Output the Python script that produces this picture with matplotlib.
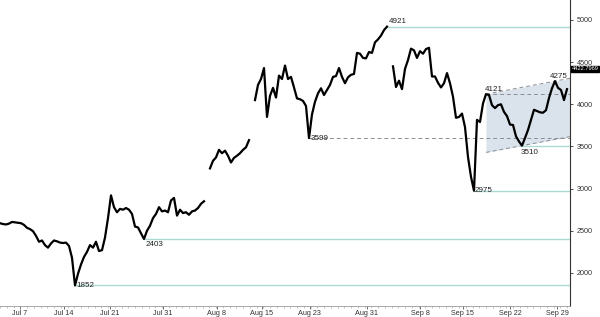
import numpy as np
import matplotlib
matplotlib.use("Agg")
import matplotlib.pyplot as plt
from matplotlib.ticker import MultipleLocator

plt.rcParams["font.family"] = ["Liberation Sans", "DejaVu Sans"]

nan = np.nan
# price series, one sample per step (NaN = gap in the data)
price = [
    2590, 2580, 2575, 2585, 2605, 2600, 2595, 2590, 2570, 2535,
    2520, 2495, 2440, 2370, 2385, 2330, 2300, 2350, 2385, 2375,
    2360, 2355, 2360, 2320, 2180, 1852, 1990, 2100, 2190, 2250,
    2330, 2300, 2370, 2260, 2270, 2420, 2650, 2920, 2780, 2720,
    2760, 2750, 2770, 2750, 2700, 2550, 2540, 2470, 2403, 2500,
    2560, 2650, 2700, 2780, 2730, 2740, 2720, 2860, 2890, 2680,
    2750, 2710, 2720, 2690, 2730, 2740, 2770, 2820, 2850, nan,
    3240, 3330, 3370, 3460, 3420, 3450, 3390, 3310, 3365, 3390,
    3420, 3460, 3490, 3575, nan, 4050, 4230, 4300, 4430, 3850,
    4100, 4195, 4080, 4340, 4300, 4460, 4300, 4325, 4200, 4070,
    4060, 4040, 3980, 3599, 3880, 4030, 4130, 4190, 4110, 4170,
    4230, 4325, 4335, 4430, 4325, 4250, 4320, 4350, 4360, 4610,
    4600, 4550, 4545, 4620, 4610, 4735, 4770, 4815, 4880, 4921,
    nan, 4450, 4205, 4280, 4180, 4420, 4525, 4660, 4640, 4550,
    4630, 4600, 4655, 4670, 4330, 4330, 4255, 4200, 4250, 4370,
    4250, 4090, 3840, 3850, 3890, 3730, 3375, 3140, 2975, 3815,
    3790, 4010, 4121, 4110, 3990, 3955, 3990, 4000, 3910, 3860,
    3760, 3755, 3620, 3560, 3510, 3600, 3695, 3815, 3935, 3920,
    3905, 3900, 3930, 4075, 4190, 4275, 4195, 4170, 4050, 4180,
    nan, 4380, 4422.7969,
]
x = np.arange(len(price))
last_price = 4422.7969

# x-axis tick positions (sample index) and labels
tick_pos = [6.7, 21.3, 36.7, 54.3, 72.3, 87.3, 103.3, 122.3, 140, 154.3, 170, 185.7]
tick_labels = ["Jul 7", "Jul 14", "Jul 21", "Jul 31", "Aug 8", "Aug 15",
               "Aug 23", "Aug 31", "Sep 8", "Sep 15", "Sep 22", "Sep 29"]
y_ticks = [2000, 2500, 3000, 3500, 4000, 4500, 5000]

# annotated levels and line style
levels = [1852, 2403, 3599, 4921, 2975, 4121, 3510, 4275]
level_style = ["solid", "solid", "dashed", "solid", "solid", "dashed", "solid", None]

# channel anchors: two highs and one low
ch_high = [4121, 4275]
ch_low = 3510

fig = plt.figure(figsize=(6.0, 3.17), dpi=100)
ax = fig.add_axes([0.0, 11 / 317, 570 / 600, 306 / 317])
xmax = 190
ax.set_xlim(0, xmax)
ax.set_ylim(1608, 5237)

p = np.array(price, dtype=float)

def idx_of(v):
    return int(np.nanargmin(np.abs(p - v)))

# channel
i1, i2 = idx_of(ch_high[0]), idx_of(ch_high[1])
slope = (ch_high[1] - ch_high[0]) / (i2 - i1)
il = idx_of(ch_low)
cx = np.array([i1, xmax])
upper = ch_high[0] + slope * (cx - i1)
lower = ch_low + slope * (cx - il)
ax.fill_between(cx, lower, upper, color="#dae3eb", zorder=1, lw=0)
ax.plot(cx, upper, ls=(0, (4, 3)), color="#8a8f94", lw=0.7, zorder=2)
ax.plot(cx, lower, ls=(0, (4, 3)), color="#8a8f94", lw=0.7, zorder=2)

# level lines
teal = "#a9dbd3"
for v, st in zip(levels, level_style):
    i = idx_of(v)
    if st == "solid":
        ax.plot([i, xmax], [v, v], color=teal, lw=1.0, zorder=2)
    elif st == "dashed":
        ax.plot([i, xmax], [v, v], color="#8a8f94", lw=0.7, ls=(0, (4, 3)), zorder=2)

ax.plot(x, p, color="black", lw=1.6, zorder=3)

# level labels
lab_off = {1852: (0.6, 0, "left", "center"), 2403: (0.6, -30, "left", "top"),
           3599: (0.6, 0, "left", "center"), 4921: (0.6, 20, "left", "bottom"),
           2975: (0.3, 0, "left", "center"), 4121: (-0.5, 60, "left", "center"),
           3510: (-0.3, -40, "left", "top"), 4275: (-1.8, 60, "left", "center")}
for v in levels:
    i = idx_of(v)
    dx, dy, ha, va = lab_off[v]
    ax.text(i + dx, v + dy, f"{v}", fontsize=5.8, color="#222222", ha=ha, va=va, zorder=4)

# last price tag
ax.annotate(f"{last_price:.4f}", xy=(xmax, last_price), xytext=(xmax + 0.6, last_price),
            fontsize=4.1, color="white", ha="left", va="center", annotation_clip=False,
            bbox=dict(boxstyle="square,pad=0.1", fc="black", ec="black"), zorder=5)

for s in ["top", "left"]:
    ax.spines[s].set_visible(False)
ax.spines["right"].set_color("#333333")
ax.spines["right"].set_linewidth(0.8)
ax.spines["bottom"].set_color("#9a9a9a")
ax.spines["bottom"].set_linewidth(0.6)

ax.yaxis.tick_right()
ax.set_yticks(y_ticks)
ax.set_yticklabels([str(t) for t in y_ticks])
ax.tick_params(axis="y", which="major", length=2.5, width=0.6, pad=2.5, labelsize=5.2,
               colors="#333333")
ax.set_xticks(tick_pos)
ax.set_xticklabels(tick_labels)
ax.xaxis.set_minor_locator(MultipleLocator(2.25))
ax.tick_params(axis="x", which="major", length=2, width=0.5, pad=1, labelsize=5.2,
               colors="#333333")
ax.tick_params(axis="x", which="minor", length=1.5, width=0.4, colors="#9a9a9a")

fig.savefig("out.png", dpi=100)
